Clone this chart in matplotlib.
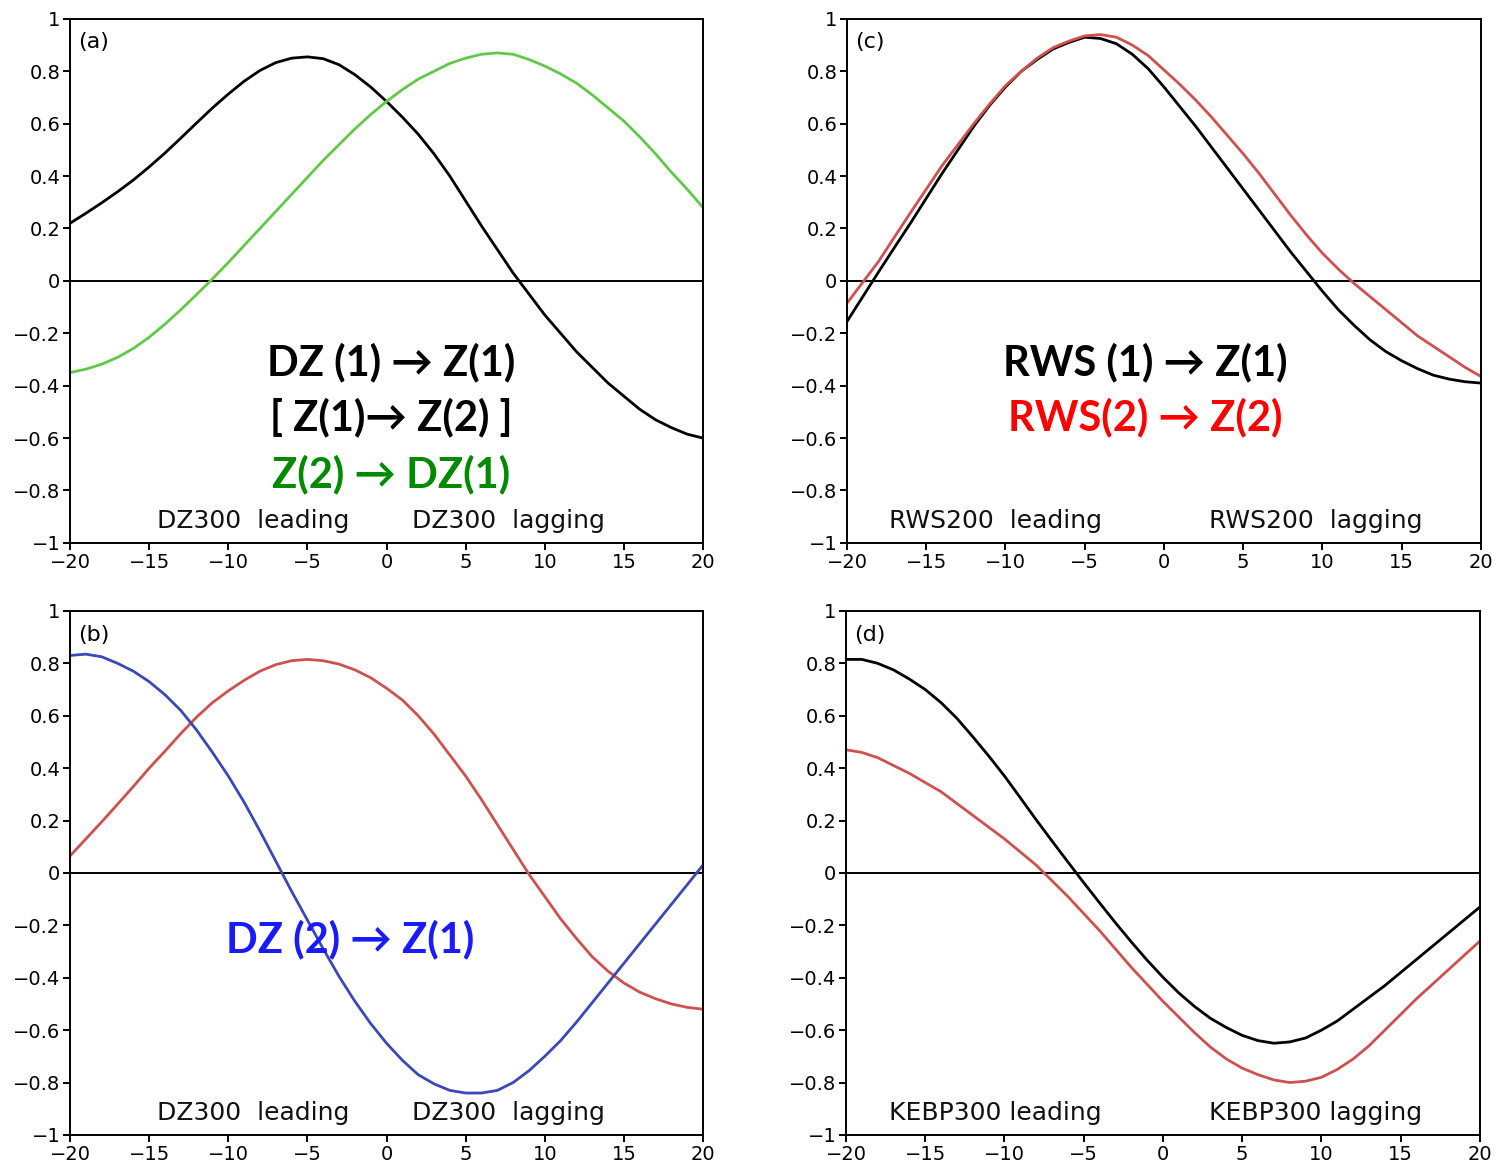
import matplotlib
matplotlib.use('Agg')
import matplotlib.pyplot as plt
import numpy as np

# Desfases en días (negativo: la variable va adelante)
lags = np.arange(-20, 21)

# (a) correlaciones con DZ300
a_dz1_z1 = [0.22, 0.258, 0.298, 0.34, 0.385, 0.435, 0.488, 0.545, 0.603, 0.66, 0.713,
            0.762, 0.803, 0.833, 0.85, 0.855, 0.848, 0.825, 0.787, 0.74, 0.685,
            0.625, 0.56, 0.485, 0.40, 0.305, 0.21, 0.12, 0.03, -0.05, -0.13,
            -0.20, -0.27, -0.33, -0.39, -0.44, -0.49, -0.53, -0.56, -0.585, -0.60]
a_z2_dz1 = [-0.35, -0.337, -0.318, -0.292, -0.258, -0.215, -0.165, -0.11, -0.052, 0.008, 0.07,
            0.135, 0.20, 0.265, 0.33, 0.395, 0.46, 0.52, 0.58, 0.635, 0.685,
            0.73, 0.77, 0.80, 0.83, 0.85, 0.865, 0.87, 0.865, 0.845, 0.82,
            0.79, 0.755, 0.71, 0.66, 0.61, 0.55, 0.485, 0.415, 0.35, 0.28]

# (b) correlaciones con DZ300 (modo 2)
b_rojo = [0.065, 0.13, 0.195, 0.262, 0.33, 0.40, 0.465, 0.532, 0.595, 0.65, 0.695,
          0.735, 0.77, 0.795, 0.81, 0.815, 0.81, 0.797, 0.775, 0.745, 0.705,
          0.66, 0.60, 0.53, 0.45, 0.37, 0.28, 0.185, 0.09, -0.005, -0.09,
          -0.175, -0.25, -0.32, -0.375, -0.42, -0.455, -0.48, -0.50, -0.513, -0.52]
b_dz2_z1 = [0.83, 0.835, 0.825, 0.80, 0.77, 0.73, 0.68, 0.62, 0.545, 0.46, 0.37,
            0.27, 0.16, 0.045, -0.07, -0.18, -0.29, -0.395, -0.49, -0.575, -0.65,
            -0.715, -0.77, -0.805, -0.83, -0.84, -0.84, -0.83, -0.80, -0.755, -0.70,
            -0.64, -0.57, -0.495, -0.42, -0.345, -0.27, -0.195, -0.12, -0.045, 0.03]

# (c) correlaciones con RWS200
c_rws1_z1 = [-0.155, -0.06, 0.035, 0.128, 0.22, 0.315, 0.41, 0.50, 0.59, 0.67, 0.74,
             0.80, 0.845, 0.885, 0.91, 0.93, 0.925, 0.905, 0.865, 0.81, 0.74,
             0.665, 0.59, 0.51, 0.43, 0.35, 0.27, 0.19, 0.11, 0.035, -0.04,
             -0.11, -0.17, -0.225, -0.27, -0.305, -0.335, -0.36, -0.375, -0.385, -0.39]
c_rws2_z2 = [-0.085, -0.005, 0.075, 0.168, 0.26, 0.35, 0.44, 0.52, 0.60, 0.675, 0.745,
             0.80, 0.85, 0.89, 0.915, 0.935, 0.94, 0.93, 0.90, 0.86, 0.805,
             0.75, 0.69, 0.625, 0.555, 0.485, 0.41, 0.33, 0.25, 0.175, 0.105,
             0.045, -0.01, -0.06, -0.11, -0.16, -0.21, -0.25, -0.29, -0.33, -0.365]

# (d) correlaciones con KEBP300
d_negro = [0.815, 0.815, 0.80, 0.775, 0.74, 0.70, 0.65, 0.59, 0.52, 0.447, 0.37,
           0.287, 0.203, 0.122, 0.042, -0.037, -0.114, -0.19, -0.263, -0.333, -0.398,
           -0.458, -0.51, -0.555, -0.59, -0.62, -0.64, -0.65, -0.645, -0.63, -0.60,
           -0.565, -0.52, -0.475, -0.43, -0.38, -0.33, -0.28, -0.23, -0.18, -0.13]
d_rojo = [0.47, 0.46, 0.44, 0.41, 0.38, 0.345, 0.31, 0.265, 0.22, 0.175, 0.13,
          0.08, 0.03, -0.03, -0.09, -0.155, -0.22, -0.29, -0.36, -0.425, -0.49,
          -0.55, -0.61, -0.665, -0.71, -0.745, -0.77, -0.79, -0.80, -0.795, -0.78,
          -0.75, -0.71, -0.66, -0.60, -0.54, -0.48, -0.425, -0.37, -0.315, -0.26]

xticks = [-20, -15, -10, -5, 0, 5, 10, 15, 20]
yticks = [-1, -0.8, -0.6, -0.4, -0.2, 0, 0.2, 0.4, 0.6, 0.8, 1]
ytick_labels = ['\u22121', '\u22120.8', '\u22120.6', '\u22120.4', '\u22120.2', '0',
                '0.2', '0.4', '0.6', '0.8', '1']
xtick_labels = ['\u221220', '\u221215', '\u221210', '\u22125', '0', '5', '10', '15', '20']

VERDE = '#62c84a'
ROJO = '#d05050'
AZUL = '#3a48b8'
FUENTE_GRANDE = ['Lato', 'DejaVu Sans']
TAM_GRANDE = 30


def preparar_panel(ax, letra, texto_izq, texto_der, x_izq, x_der):
    ax.set_xlim(-20, 20)
    ax.set_ylim(-1, 1)
    ax.axhline(0, color='black', lw=1.4, zorder=1)
    ax.set_xticks(xticks)
    ax.set_xticklabels(xtick_labels)
    ax.set_yticks(yticks)
    ax.set_yticklabels(ytick_labels)
    ax.tick_params(direction='out', length=5, width=1.4, labelsize=14, pad=2)
    for s in ax.spines.values():
        s.set_linewidth(1.4)
    ax.text(0.013, 0.955, letra, transform=ax.transAxes, fontsize=16,
            ha='left', va='center')
    ax.text(x_izq, -0.915, texto_izq, fontsize=18, ha='center', va='center',
            color='#111111')
    ax.text(x_der, -0.915, texto_der, fontsize=18, ha='center', va='center',
            color='#111111')


def rotulo(ax, x, y, texto, color):
    ax.text(x, y, texto, family=FUENTE_GRANDE, fontweight='bold',
            fontsize=TAM_GRANDE, ha='center', va='center', color=color)


fig = plt.figure(figsize=(14.97, 11.65), dpi=100)
ax_a = fig.add_axes([0.0468, 0.534, 0.4228, 0.4498])
ax_c = fig.add_axes([0.5658, 0.534, 0.4235, 0.4498])
ax_b = fig.add_axes([0.0468, 0.0258, 0.4228, 0.4498])
ax_d = fig.add_axes([0.5651, 0.0258, 0.4235, 0.4498])

# Panel (a)
preparar_panel(ax_a, '(a)', 'DZ300  leading', 'DZ300  lagging', -8.4, 7.7)
ax_a.plot(lags, a_dz1_z1, color='black', lw=2)
ax_a.plot(lags, a_z2_dz1, color=VERDE, lw=2)
rotulo(ax_a, 0.3, -0.31, 'DZ (1) \u2192 Z(1)', 'black')
rotulo(ax_a, 0.3, -0.52, '[ Z(1)\u2192 Z(2) ]', 'black')
rotulo(ax_a, 0.3, -0.74, 'Z(2) \u2192 DZ(1)', '#008a00')

# Panel (b)
preparar_panel(ax_b, '(b)', 'DZ300  leading', 'DZ300  lagging', -8.4, 7.7)
ax_b.plot(lags, b_rojo, color=ROJO, lw=2)
ax_b.plot(lags, b_dz2_z1, color=AZUL, lw=2)
rotulo(ax_b, -2.3, -0.255, 'DZ (2) \u2192 Z(1)', '#1a1aff')

# Panel (c)
preparar_panel(ax_c, '(c)', 'RWS200  leading', 'RWS200  lagging', -10.6, 9.6)
ax_c.plot(lags, c_rws1_z1, color='black', lw=2)
ax_c.plot(lags, c_rws2_z2, color=ROJO, lw=2)
rotulo(ax_c, -1.2, -0.31, 'RWS (1) \u2192 Z(1)', 'black')
rotulo(ax_c, -1.2, -0.52, 'RWS(2) \u2192 Z(2)', '#ff0000')

# Panel (d)
preparar_panel(ax_d, '(d)', 'KEBP300 leading', 'KEBP300 lagging', -10.6, 9.6)
ax_d.plot(lags, d_negro, color='black', lw=2)
ax_d.plot(lags, d_rojo, color=ROJO, lw=2)

fig.savefig('out.png', dpi=100)
plt.close(fig)
